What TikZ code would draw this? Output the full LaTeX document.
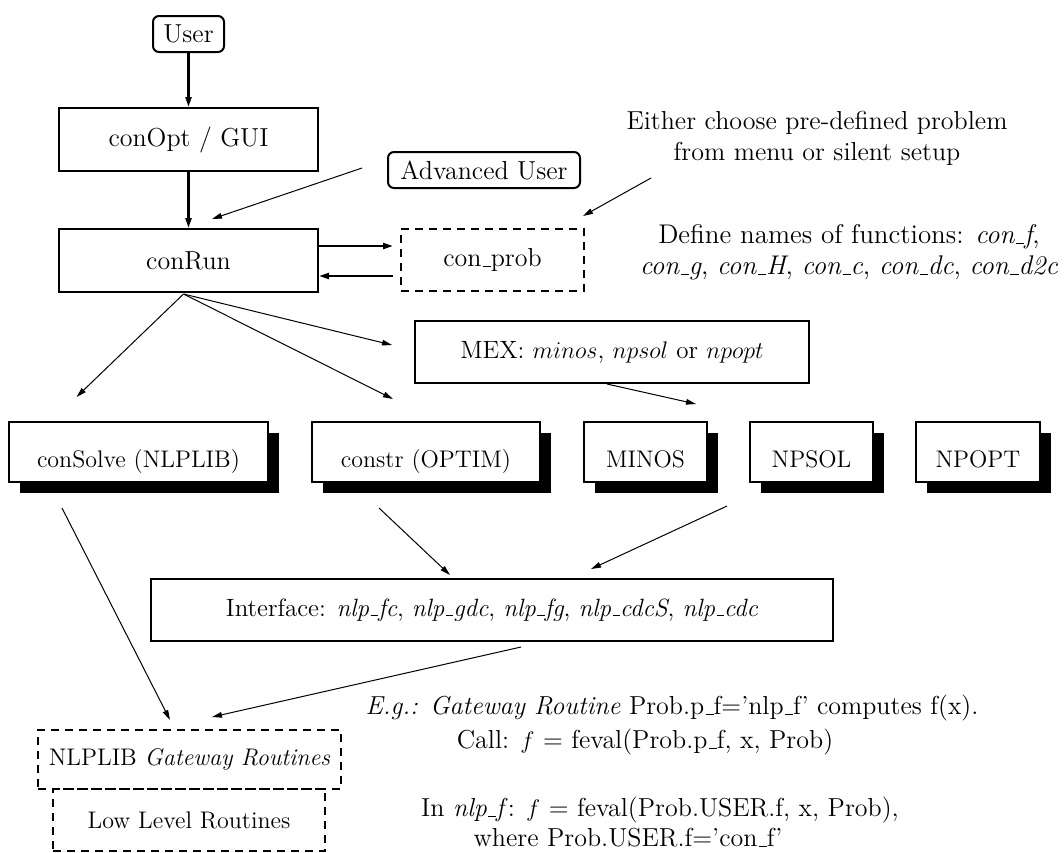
\documentclass[tikz,border=0pt]{standalone}
\usetikzlibrary{arrows.meta,calc,shadows}
\newcommand\fsz[2]{\fontsize{#1}{#2}\selectfont}
\newcommand\myq{\textquoteright}
\newcommand\us{\leavevmode\kern.06em\vbox{\hrule width.3em height .5pt}}
\begin{document}
\begin{tikzpicture}[x=0.5pt,y=-0.5pt,
  every node/.style={font=\fsz{13}{15.5}},
  box/.style={draw, line width=1pt, inner sep=0pt},
  rbox/.style={box, rounded corners=3pt},
  dbox/.style={draw, line width=1pt, dash pattern=on 4pt off 3pt, inner sep=0pt},
  sbox/.style={box, fill=white, minimum height=30pt,
     drop shadow={shadow xshift=5.5pt, shadow yshift=-5.5pt, fill=black, opacity=1},
     font=\fsz{12}{14}, text height=15pt, text depth=0pt},
  thinarrow/.style={line width=0.5pt, -{Triangle[length=5pt,width=2.8pt]}},
  thickarrow/.style={line width=1.1pt, -{Triangle[length=5pt,width=3pt]}},
  smallfont/.style={font=\fsz{12}{14}}
]
\useasboundingbox (0,0) rectangle (1064,852);

% top column
\node[rbox, minimum width=35.5pt, minimum height=18pt] (user) at (188.5,34) {User};
\node[box, minimum width=129.5pt, minimum height=31.5pt] (conopt) at (188.5,139.5) {conOpt / GUI};
\node[box, minimum width=129.5pt, minimum height=31.5pt] (conrun) at (188.5,260.5) {conRun};
\node[rbox, minimum width=96pt, minimum height=18pt] (adv) at (484,170) {Advanced User};
\node[dbox, minimum width=91.5pt, minimum height=31pt] (cp) at (492.5,260) {con\us prob};

% texts right
\node[align=center] (either) at (817,138.5) {Either choose pre-defined problem\\from menu or silent setup};
\node[align=center, font=\fsz{13.5}{15.5}] (define) at (849,252.5) {Define names of functions: \textit{con\us f},\\\textit{con\us g}, \textit{con\us H}, \textit{con\us c}, \textit{con\us dc}, \textit{con\us d2c}};

% MEX
\node[box, minimum width=197pt, minimum height=31pt, font=\fsz{12.5}{15}] (mex) at (612,352) {MEX: $minos$, $npsol$ or $npopt$};

% row of solvers
\node[sbox, minimum width=129.5pt] (cs) at (138.5,452) {conSolve (NLPLIB)};
\node[sbox, minimum width=114pt] (cstr) at (426,452) {constr (OPTIM)};
\node[sbox, minimum width=61.5pt] (minos) at (645.5,452) {MINOS};
\node[sbox, minimum width=61.5pt] (npsol) at (811.5,452) {NPSOL};
\node[sbox, minimum width=62pt] (npopt) at (978,452) {NPOPT};

% interface
\node[box, font=\fsz{12.5}{15}, minimum width=341pt, minimum height=31pt] (intf) at (492,610)
  {Interface: \textit{nlp\us fc}, \textit{nlp\us gdc}, \textit{nlp\us fg}, \textit{nlp\us cdcS}, \textit{nlp\us cdc}};

% bottom boxes
\node[dbox, smallfont, minimum width=151.5pt, minimum height=29.5pt] (gw) at (189.5,759.5) {NLPLIB \textit{Gateway Routines}};
\node[dbox, smallfont, minimum width=136pt, minimum height=31pt] (low) at (189,820) {Low Level Routines};

% example texts
\node (eg) at (672,708) {\textit{E.g.: Gateway Routine} Prob.p\us f=\myq nlp\us f\myq\ computes f(x).};
\node (call) at (645,742) {Call: $f$ = feval(Prob.p\us f, x, Prob)};
\node (innlp) at (660,810) {In \textit{nlp\us f}: $f$ = feval(Prob.USER.f, x, Prob),};
\node (where) at (628,838) {where Prob.USER.f=\myq con\us f\myq};

% connectors
\draw[thickarrow] (user.south) -- (conopt.north);
\draw[thickarrow] (conopt.south) -- (conrun.north);
\draw[thickarrow] ($(conrun.east)+(0,-14.5)$) -- ($(cp.west)+(-7,-14)$);
\draw[thickarrow] ($(cp.west)+(-7,16)$) -- ($(conrun.east)+(0,15.5)$);
\draw[thinarrow] ($(adv.west)+(-25,-2)$) -- ($(conrun.north)+(23.5,-9)$);
\coordinate (eitherfoot) at (651,178);
\draw[thinarrow] (eitherfoot) -- ($(cp.north east)+(-2,-12)$);

\coordinate (fan) at ($(conrun.south)+(-5,1)$);
\draw[thinarrow] (fan) -- ($(cs.north)+(-62,-24)$);
\draw[thinarrow] (fan) -- ($(cstr.north)+(-33,-22)$);
\draw[thinarrow] (fan) -- ($(mex.west)+(-22,-7)$);
\draw[thinarrow] ($(mex.south)+(-5,0)$) -- ($(minos.north)+(50.5,-17)$);

\draw[thinarrow] ($(cs.south)+(-76.5,25)$) -- ($(gw.north)+(-19.5,-9)$);
\draw[thinarrow] ($(cstr.south)+(-47,25)$) -- ($(intf.north)+(-42,-3)$);
\draw[thinarrow] ($(npsol.south)+(-84.5,23)$) -- ($(intf.north)+(99,-9)$);
\draw[thinarrow] ($(intf.south)+(29,5)$) -- ($(gw.north)+(22.5,-12)$);
\end{tikzpicture}
\end{document}
